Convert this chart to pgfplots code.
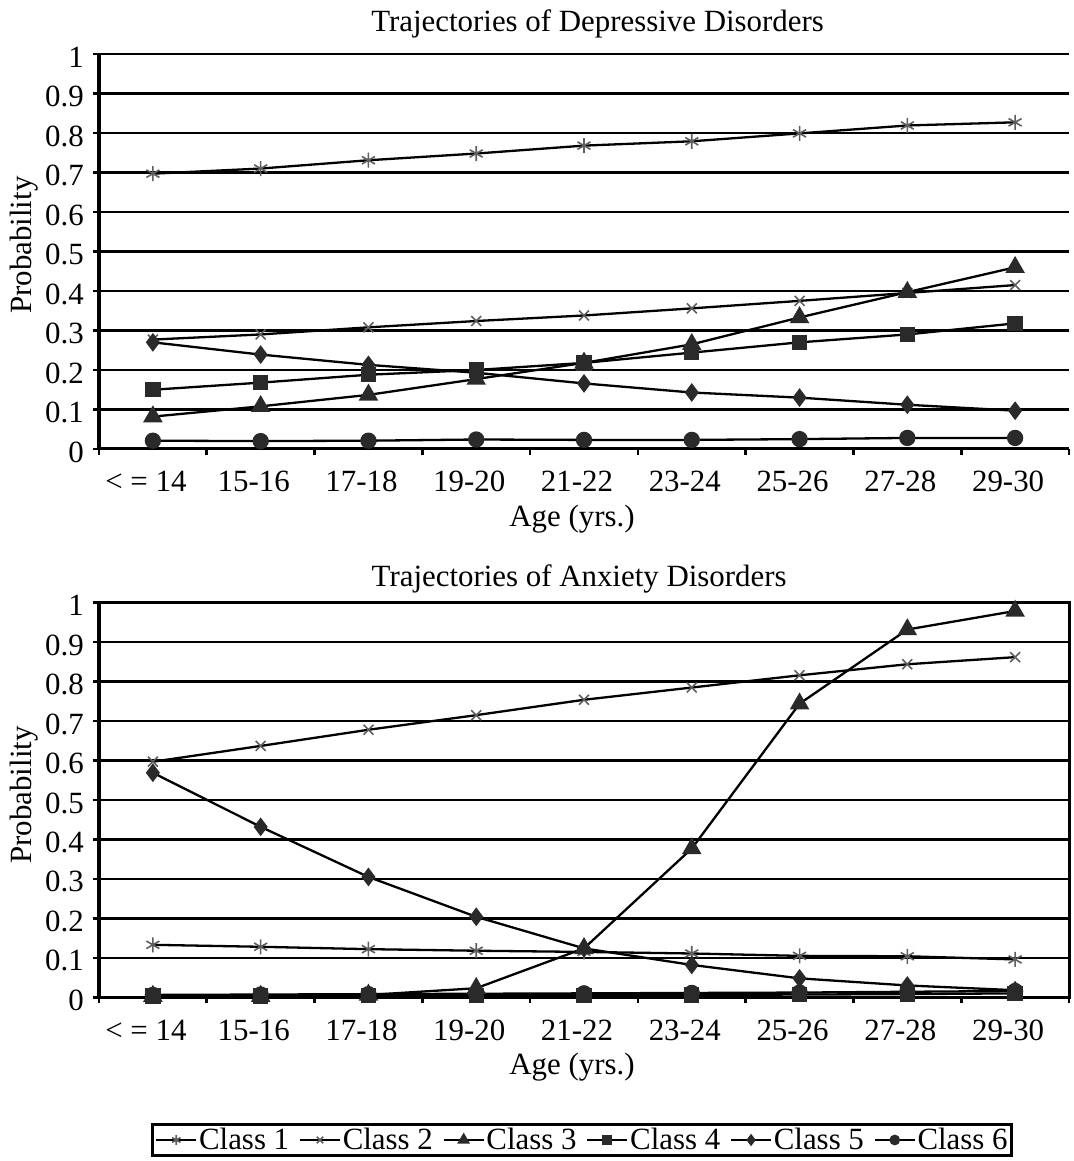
\documentclass[border=0pt]{standalone}
\usepackage{pgfplots}
\usepackage{pgfplotstable}
\pgfplotsset{compat=1.18}
\usepackage{fontspec}
\setmainfont{Liberation Serif}

\definecolor{mk}{HTML}{2A2A2A}
\definecolor{gr}{HTML}{5E5E5E}

% depressive disorders
\pgfplotstableread{
x c1 c2 c3 c4 c5 c6
0 0.697 0.277 0.082 0.150 0.270 0.021
1 0.710 0.290 0.108 0.168 0.239 0.020
2 0.731 0.308 0.137 0.188 0.213 0.021
3 0.748 0.324 0.177 0.200 0.193 0.024
4 0.768 0.338 0.218 0.218 0.166 0.023
5 0.779 0.356 0.265 0.244 0.143 0.023
6 0.799 0.375 0.333 0.270 0.130 0.025
7 0.819 0.395 0.397 0.290 0.112 0.028
8 0.827 0.415 0.460 0.318 0.097 0.028
}\dep

% anxiety disorders
\pgfplotstableread{
x c1 c2 c3 c4 c5 c6
0 0.133 0.597 0.003 0.003 0.569 0.006
1 0.128 0.637 0.003 0.003 0.432 0.007
2 0.122 0.678 0.006 0.004 0.305 0.008
3 0.118 0.715 0.023 0.005 0.204 0.009
4 0.115 0.754 0.124 0.005 0.124 0.010
5 0.111 0.785 0.377 0.006 0.082 0.011
6 0.105 0.816 0.744 0.007 0.048 0.012
7 0.104 0.844 0.932 0.008 0.030 0.014
8 0.096 0.862 0.979 0.010 0.018 0.016
}\anx

\newcommand\fs{\fontsize{31}{37}\selectfont}

\pgfplotsset{
  traj/.style={
    scale only axis, width=970bp,
    xmin=-0.5, xmax=8.5, ymin=0, ymax=1,
    xtick={-0.5,0.5,...,8.5},
    x tick label as interval,
    xticklabels={{< = 14},15-16,17-18,19-20,21-22,23-24,25-26,27-28,29-30},
    ytick={0,0.1,...,1},
    yticklabels={0,0.1,0.2,0.3,0.4,0.5,0.6,0.7,0.8,0.9,1},
    tick align=outside, major tick length=6bp,
    xtick pos=bottom, ytick pos=left,
    tick style={black, line width=2.6bp},
    axis line style={black, line width=3bp},
    ymajorgrids, major grid style={black, line width=2.6bp},
    every tick label/.append style={font=\fs},
    xticklabel style={anchor=base, yshift=-37bp, xshift=-7bp},
    yticklabel style={anchor=east, inner sep=0pt, xshift=-9bp, yshift=-3bp},
    xlabel={Age (yrs.)}, ylabel={Probability},
    clip=false,
  },
  s1/.style={black, line width=2.3bp, mark=asterisk, mark size=7.5bp, mark options={gr, line width=1.6bp}},
  s2/.style={black, line width=2.3bp, mark=x, mark size=7bp, mark options={gr, line width=1.6bp}},
  s3/.style={black, line width=2.3bp, mark=triangle*, mark size=9bp, mark options={mk, fill=mk}},
  s4/.style={black, line width=2.3bp, mark=square*, mark size=6.5bp, mark options={mk, fill=mk}},
  s5/.style={black, line width=2.3bp, mark=diamond*, mark size=7.5bp, mark options={mk, fill=mk}},
  s6/.style={black, line width=2.3bp, mark=*, mark size=7bp, mark options={mk, fill=mk}},
}

\begin{document}
\begin{tikzpicture}
\path[use as bounding box] (0,0) rectangle (1074bp,1161bp);

\begin{axis}[traj, height=395bp,
  at={(99bp,712bp)}, anchor=south west,
  axis x line*=bottom, axis y line*=left,
  title={Trajectories of Depressive Disorders},
  title style={font=\fs, anchor=base, at={(axis description cs:0.514,1.042)}},
  xlabel style={font=\fs, at={(axis description cs:0.4876,-0.195)}, anchor=base},
  ylabel style={font=\fs, at={(axis description cs:-0.070,0.516)}, anchor=base},
]
\addplot[s1] table[x=x,y=c1]{\dep};
\addplot[s2] table[x=x,y=c2]{\dep};
\addplot[s3] table[x=x,y=c3]{\dep};
\addplot[s4] table[x=x,y=c4]{\dep};
\addplot[s5] table[x=x,y=c5]{\dep};
\addplot[s6] table[x=x,y=c6]{\dep};
\end{axis}

\begin{axis}[traj, height=394.6bp,
  at={(99bp,163.7bp)}, anchor=south west,
  title={Trajectories of Anxiety Disorders},
  title style={font=\fs, anchor=base, at={(axis description cs:0.495,1.026)}},
  xlabel style={font=\fs, at={(axis description cs:0.4876,-0.1944)}, anchor=base},
  ylabel style={font=\fs, at={(axis description cs:-0.070,0.513)}, anchor=base},
  legend columns=6,
  legend style={at={(axis description cs:0.498,-0.3616)}, anchor=center,
    draw=black, line width=2.6bp, font=\fs, inner xsep=3bp, inner ysep=3bp,
    /tikz/every odd column/.append style={column sep=1bp},
    /tikz/every even column/.append style={column sep=9bp},
    nodes={inner sep=1bp}},
  legend image code/.code={
    \draw[mark repeat=2, mark phase=2, #1, line width=1.6bp, every mark/.append style={scale=0.65}]
      plot coordinates {(0bp,0bp) (20bp,0bp) (40bp,0bp)};},
]
\addplot[s1] table[x=x,y=c1]{\anx};
\addplot[s2] table[x=x,y=c2]{\anx};
\addplot[s3] table[x=x,y=c3]{\anx};
\addplot[s4] table[x=x,y=c4]{\anx};
\addplot[s5] table[x=x,y=c5]{\anx};
\addplot[s6] table[x=x,y=c6]{\anx};
\legend{Class 1,Class 2,Class 3,Class 4,Class 5,Class 6}
\end{axis}
\end{tikzpicture}
\end{document}
